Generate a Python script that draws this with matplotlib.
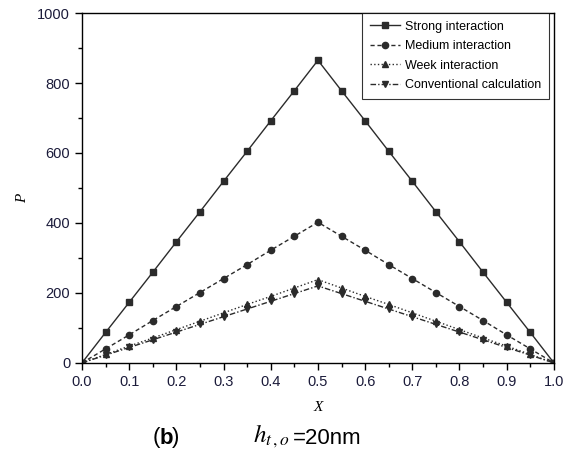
import numpy as np
import matplotlib
matplotlib.use('Agg')
import matplotlib.pyplot as plt
from matplotlib.ticker import MultipleLocator

# ── data ────────────────────────────────────────────────────────────────────
x = [0.0, 0.05, 0.1, 0.15, 0.2, 0.25, 0.3, 0.35, 0.4, 0.45, 0.5,
     0.55, 0.6, 0.65, 0.7, 0.75, 0.8, 0.85, 0.9, 0.95, 1.0]
strong = [0, 87, 173, 259, 346, 432, 519, 605, 692, 778, 865,
          778, 692, 605, 519, 432, 346, 259, 173, 87, 0]
medium = [0, 40, 80, 121, 161, 201, 241, 281, 322, 362, 402,
          362, 322, 281, 241, 201, 161, 121, 80, 40, 0]
week = [0, 24, 48, 71, 95, 119, 143, 167, 190, 214, 238,
        214, 190, 167, 143, 119, 95, 71, 48, 24, 0]
conventional = [0, 22, 44, 66, 88, 110, 132, 154, 176, 198, 220,
                198, 176, 154, 132, 110, 88, 66, 44, 22, 0]
# ─────────────────────────────────────────────────────────────────────────────

plt.rcParams['font.family'] = ['Liberation Sans', 'DejaVu Sans']
tick_col = '#1b1b3a'
line_col = '#2b2b2b'

fig = plt.figure(figsize=(5.71, 4.57), dpi=100)
ax = fig.add_axes([0.1436, 0.206, 0.8264, 0.7654])

ax.plot(x, strong, '-', color=line_col, lw=1.0, marker='s', ms=4.5, label='Strong interaction')
ax.plot(x, medium, '--', color=line_col, lw=1.0, marker='o', ms=4.5,
        dashes=(3, 2), label='Medium interaction')
ax.plot(x, week, ':', color=line_col, lw=1.0, marker='^', ms=5, label='Week interaction')
ax.plot(x, conventional, '-.', color=line_col, lw=1.0, marker='v', ms=5,
        dashes=(4, 1.5, 1, 1.5), label='Conventional calculation')

ax.set_xlim(0, 1)
ax.set_ylim(0, 1000)
ax.xaxis.set_major_locator(MultipleLocator(0.1))
ax.xaxis.set_minor_locator(MultipleLocator(0.05))
ax.yaxis.set_major_locator(MultipleLocator(200))
ax.yaxis.set_minor_locator(MultipleLocator(100))
ax.tick_params(which='major', direction='out', length=5, width=1, labelsize=10.5,
               labelcolor=tick_col)
ax.tick_params(which='minor', direction='out', length=3, width=1)
for s in ax.spines.values():
    s.set_linewidth(1.0)

ax.set_xlabel('X', family='Liberation Serif', style='italic', fontsize=11, labelpad=9)
ax.set_ylabel('P', family='Liberation Serif', style='italic', fontsize=11)
ax.yaxis.set_label_coords(-0.113, 0.47)

leg = ax.legend(loc='upper right', bbox_to_anchor=(0.989, 1.0), fontsize=9,
                frameon=True, fancybox=False, edgecolor='black',
                handlelength=2.4, borderaxespad=0.0, borderpad=0.6,
                labelspacing=0.6, handletextpad=0.4)
leg.get_frame().set_linewidth(0.8)

cy = 1 - 438 / 457
fig.text(153 / 571, cy, '(', fontsize=16, ha='left', va='center')
fig.text(160 / 571, cy, 'b', fontsize=16, fontweight='bold', ha='left', va='center')
fig.text(172 / 571, cy, ')', fontsize=16, ha='left', va='center')
fig.text(253 / 571, cy + 0.004, r'$h_{t\,,o}$', fontsize=18, ha='left', va='center',
         math_fontfamily='stix')
fig.text(293 / 571, cy, '=20nm', fontsize=16, ha='left', va='center')

fig.savefig('out.png', dpi=100)
